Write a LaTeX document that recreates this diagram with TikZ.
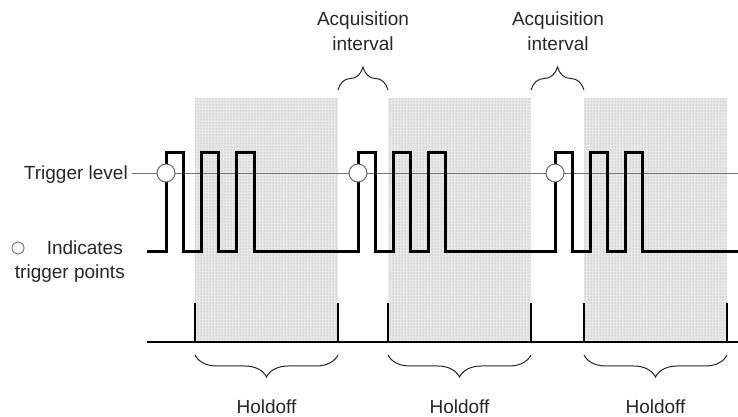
\documentclass[tikz,border=0pt]{standalone}
\usepackage{fontspec}
\setmainfont{Liberation Sans}
\usetikzlibrary{decorations.pathreplacing,patterns}
\begin{document}
\begin{tikzpicture}[x=1pt,y=1pt,
  lbl/.style={font=\fontsize{19}{25}\selectfont, inner sep=0pt, text=black!85},
  shadebox/.style={fill=black!9, draw=none},
  dotsbox/.style={pattern=dots, pattern color=black!40, draw=none},
  sig/.style={line width=3pt, line join=miter},
  trig/.style={circle, draw=black!60, fill=white, line width=1pt, minimum size=18pt, inner sep=0pt},
  tline/.style={draw=black!55, line width=0.8pt},
  baseln/.style={line width=1.8pt},
  tickln/.style={line width=1.8pt},
  brc/.style={decorate, decoration={brace, amplitude=#1}, line width=1pt, draw=black!85},
]
\useasboundingbox (0,0) rectangle (738,417);

% shaded holdoff regions
\foreach \a/\b in {195/338, 388/531, 584/727}{
  \fill[shadebox] (\a,75) rectangle (\b,319);
  \fill[dotsbox] (\a,75) rectangle (\b,319);
}

% baseline and holdoff ticks
\coordinate (bl0) at (147,75);
\coordinate (bl1) at (738,75);
\draw[baseln] (bl0) -- (bl1);
\foreach \x [count=\i] in {195,338,388,531,584,727}{
  \coordinate (tb\i) at (\x,75);
  \coordinate (tt\i) at (\x,114);
  \draw[tickln] (tb\i) -- (tt\i);
}

% trigger level
\node[lbl, anchor=base east] (tl) at (128,237) {Trigger level};
\coordinate (tend) at (738,244);
\draw[tline] ([xshift=4pt]tl.east |- tend) -- (tend);

% signal
\draw[sig] (147,165) -- (166,165) -- (166,264) -- (183,264) -- (183,165)
  -- (201,165) -- (201,264) -- (218,264) -- (218,165)
  -- (236,165) -- (236,264) -- (254,264) -- (254,165)
  -- (358,165) -- (358,264) -- (375,264) -- (375,165)
  -- (393,165) -- (393,264) -- (410,264) -- (410,165)
  -- (428,165) -- (428,264) -- (445,264) -- (445,165)
  -- (555,165) -- (555,264) -- (572,264) -- (572,165)
  -- (590,165) -- (590,264) -- (607,264) -- (607,165)
  -- (625,165) -- (625,264) -- (642,264) -- (642,165) -- (738,165);

% trigger points
\node[trig] (tp1) at (166,244) {};
\node[trig] (tp2) at (358,244) {};
\node[trig] (tp3) at (555,244) {};

% legend
\node[circle, draw=black!60, line width=0.8pt, minimum size=12pt, inner sep=0pt] (lc) at (18,169) {};
\node[lbl, anchor=base east] (ind) at (123,162) {Indicates};
\node[lbl, anchor=base east] (tpts) at (125,138) {trigger points};

% acquisition intervals
\coordinate (a1l) at (338,327); \coordinate (a1r) at (388,327);
\coordinate (a2l) at (531,327); \coordinate (a2r) at (584,327);
\draw[brc=23pt] (a1l) -- (a1r);
\draw[brc=23pt] (a2l) -- (a2r);
\node[lbl, anchor=north, align=center] (acq1) at (363,405) {Acquisition\\interval};
\node[lbl, anchor=north, align=center] (acq2) at (558,405) {Acquisition\\interval};

% holdoff braces
\coordinate (h1l) at (195,62); \coordinate (h1r) at (338,62);
\coordinate (h2l) at (388,62); \coordinate (h2r) at (531,62);
\coordinate (h3l) at (584,62); \coordinate (h3r) at (727,62);
\draw[brc=22pt] (h1r) -- (h1l);
\draw[brc=22pt] (h2r) -- (h2l);
\draw[brc=22pt] (h3r) -- (h3l);
\node[lbl, anchor=base] (ho1) at (266.5,3) {Holdoff};
\node[lbl, anchor=base] (ho2) at (459.5,3) {Holdoff};
\node[lbl, anchor=base] (ho3) at (655.5,3) {Holdoff};
\end{tikzpicture}
\end{document}
